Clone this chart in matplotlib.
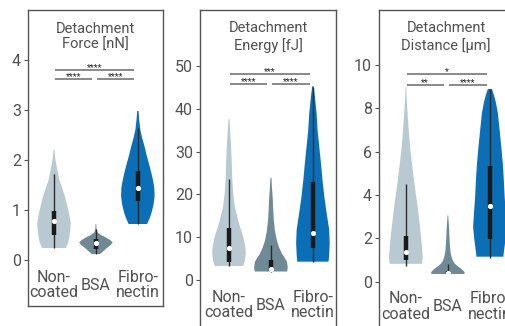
import matplotlib.pyplot as plt

plt.rcParams["font.family"] = ["Roboto", "DejaVu Sans"]

GROUPS = ["Non-\ncoated", "BSA", "Fibro-\nnectin"]
COLORS = ["#b8c9d2", "#6f8995", "#0a6fb6"]
TEXT_COLOR = "#505050"

# ---- panel 1: force [nN] ----
FORCE_TITLE = "Detachment\nForce [nN]"
FORCE_COORDS = [
    [0.24, 0.35, 0.47, 0.6, 0.73, 0.93, 1.1, 1.27, 1.45, 1.6, 1.8, 1.93, 2.05, 2.2],
    [0.12, 0.18, 0.24, 0.3, 0.35, 0.4, 0.45, 0.5, 0.55, 0.6, 0.65, 0.72],
    [0.72, 0.85, 0.95, 1.1, 1.27, 1.45, 1.6, 1.75, 1.93, 2.1, 2.27, 2.45, 2.6, 2.8, 2.98],
]
FORCE_DENS = [
    [0.72, 0.85, 0.92, 0.97, 1.0, 0.9, 0.78, 0.65, 0.48, 0.32, 0.2, 0.12, 0.07, 0.03],
    [0.25, 0.45, 0.65, 0.88, 1.0, 0.85, 0.6, 0.3, 0.1, 0.05, 0.03, 0.02],
    [0.55, 0.72, 0.82, 0.93, 1.0, 0.98, 0.9, 0.8, 0.66, 0.52, 0.4, 0.25, 0.15, 0.08, 0.04],
]
# median, q1, q3, whisker low, whisker high
FORCE_BOX = [
    [0.79, 0.5, 0.98, 0.24, 1.72],
    [0.34, 0.22, 0.42, 0.12, 0.62],
    [1.45, 1.18, 1.78, 0.72, 2.65],
]
FORCE_TICKS = [0, 1, 2, 3, 4]
FORCE_SIG = [("****", 3.8), ("****", 3.62), ("****", 3.62)]

# ---- panel 2: energy [fJ] ----
ENERGY_TITLE = "Detachment\nEnergy [fJ]"
ENERGY_COORDS = [
    [3.3, 4.3, 6.2, 7.8, 10.1, 13.2, 17.1, 20, 23.4, 27, 31.1, 34.5, 37.6],
    [2.0, 3.1, 4.3, 5.2, 6.2, 7.7, 9.3, 11.5, 14, 17, 19.5, 21.7, 23.9],
    [4.3, 5.4, 8.6, 11.7, 15.6, 19.5, 23.4, 27.3, 31.1, 35, 38.9, 42.8, 45.3],
]
ENERGY_DENS = [
    [0.85, 0.93, 1.0, 0.97, 0.85, 0.6, 0.35, 0.26, 0.2, 0.17, 0.13, 0.08, 0.03],
    [0.97, 1.0, 0.95, 0.82, 0.65, 0.48, 0.35, 0.24, 0.17, 0.13, 0.1, 0.06, 0.03],
    [0.93, 0.96, 1.0, 0.97, 0.82, 0.68, 0.57, 0.48, 0.38, 0.28, 0.22, 0.12, 0.04],
]
ENERGY_BOX = [
    [7.6, 4.2, 12.1, 3.3, 23.6],
    [2.7, 2.2, 4.6, 2.0, 8.2],
    [11.1, 7.6, 22.9, 4.3, 45.0],
]
ENERGY_TICKS = [0, 10, 20, 30, 40, 50]
ENERGY_SIG = [("***", 48.1), ("****", 45.8), ("****", 45.8)]

# ---- panel 3: distance [um] ----
DIST_TITLE = "Detachment\nDistance [µm]"
DIST_COORDS = [
    [0.82, 1.13, 1.6, 2.05, 2.6, 3.13, 3.9, 4.68, 5.45, 6.22, 7.0, 7.76, 8.4, 9.0],
    [0.35, 0.43, 0.5, 0.59, 0.7, 0.82, 0.95, 1.13, 1.35, 1.59, 1.95, 2.36, 2.7, 3.05],
    [1.15, 1.36, 1.9, 2.51, 3.13, 3.9, 4.68, 5.45, 6.22, 6.99, 7.76, 8.3, 8.6, 8.9],
]
DIST_DENS = [
    [0.97, 1.0, 0.96, 0.9, 0.83, 0.75, 0.62, 0.48, 0.36, 0.25, 0.17, 0.1, 0.05, 0.02],
    [0.98, 1.0, 0.92, 0.8, 0.6, 0.42, 0.3, 0.22, 0.16, 0.13, 0.1, 0.08, 0.05, 0.02],
    [0.8, 0.83, 0.92, 1.0, 0.95, 0.88, 0.83, 0.77, 0.68, 0.58, 0.48, 0.35, 0.25, 0.12],
]
DIST_BOX = [
    [1.35, 1.0, 2.1, 0.72, 4.5],
    [0.4, 0.37, 0.5, 0.35, 0.82],
    [3.5, 1.95, 5.35, 1.1, 8.9],
]
DIST_TICKS = [0, 2, 4, 6, 8, 10]
DIST_SIG = [("*", 9.58), ("**", 9.07), ("****", 9.07)]

# significance bar spans (x from, x to): top, left, right
SIG_SPANS = [(0.02, 1.92), (0.02, 0.9), (1.02, 1.92)]


def draw_panel(ax, title, coords, dens, box, ticks, sig, ylim, xlim):
    for i, (c, d, b) in enumerate(zip(coords, dens, box)):
        stats = [{"coords": c, "vals": d, "mean": b[0], "median": b[0],
                  "min": c[0], "max": c[-1]}]
        parts = ax.violin(stats, positions=[i], widths=0.8, showmeans=False,
                          showextrema=False, showmedians=False)
        for body in parts["bodies"]:
            body.set_facecolor(COLORS[i])
            body.set_edgecolor("none")
            body.set_alpha(1)
        ax.vlines(i, b[3], b[4], color="#2b2b2b", lw=1.0, zorder=3)
        ax.vlines(i, b[1], b[2], color="#1a1a1a", lw=3.2, zorder=4)
        ax.scatter([i], [b[0]], s=14, color="white", zorder=5, linewidths=0)

    for (x0, x1), (stars, y) in zip(SIG_SPANS, sig):
        ax.plot([x0, x1], [y, y], color="#6a6a6a", lw=1.1, solid_capstyle="butt")
        ax.annotate(stars, xy=((x0 + x1) / 2, y), xytext=(0, -1.5),
                    textcoords="offset points", ha="center", va="bottom",
                    fontsize=6.5, color="#222222")

    for i, lab in enumerate(GROUPS):
        ax.annotate(lab, xy=(i, 0), xytext=(0, -25), textcoords="offset pixels",
                    ha="center", va="center", fontsize=11.5, color=TEXT_COLOR,
                    linespacing=1.05, annotation_clip=False)

    ax.annotate(title, xy=(0.5, 1), xycoords="axes fraction", xytext=(0, -27),
                textcoords="offset pixels", ha="center", va="center",
                fontsize=10.5, color=TEXT_COLOR, linespacing=1.2)

    ax.set_ylim(*ylim)
    ax.set_xlim(*xlim)
    ax.set_yticks(ticks)
    ax.set_xticks([])
    ax.tick_params(axis="y", length=3, width=0.8, color="#555555",
                   labelsize=11.5, labelcolor=TEXT_COLOR, pad=2)
    for sp in ax.spines.values():
        sp.set_color("#555555")
        sp.set_linewidth(1.0)


fig = plt.figure(figsize=(5.05, 3.26), dpi=100)
W, H = 505.0, 326.0
ax1 = fig.add_axes([28 / W, 1 - 306 / H, 135 / W, 296 / H])
ax2 = fig.add_axes([200 / W, 1 - 340 / H, 136 / W, 330 / H])
ax3 = fig.add_axes([379 / W, 1 - 340 / H, 134 / W, 330 / H])

draw_panel(ax1, FORCE_TITLE, FORCE_COORDS, FORCE_DENS, FORCE_BOX, FORCE_TICKS,
           FORCE_SIG, (-0.92, 5.0), (-0.62, 2.6))
draw_panel(ax2, ENERGY_TITLE, ENERGY_COORDS, ENERGY_DENS, ENERGY_BOX, ENERGY_TICKS,
           ENERGY_SIG, (-14.0, 63.1), (-0.69, 2.55))
draw_panel(ax3, DIST_TITLE, DIST_COORDS, DIST_DENS, DIST_BOX, DIST_TICKS,
           DIST_SIG, (-2.7, 12.55), (-0.64, 2.55))

fig.savefig("out.png", dpi=100)
